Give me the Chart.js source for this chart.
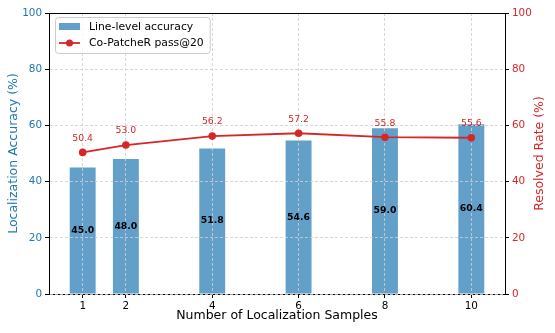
<!DOCTYPE html>
<html>
<head>
<meta charset="utf-8">
<script src="https://cdn.jsdelivr.net/npm/chart.js@4"></script>
<style>
  html, body { margin: 0; padding: 0; background: #fff; }
  canvas { display: block; }
</style>
</head>
<body>
<canvas id="c" width="555" height="333"></canvas>
<script>
// ---- data ----
const samples = [1, 2, 4, 6, 8, 10];
const lineLevelAccuracy = [45.0, 48.0, 51.8, 54.6, 59.0, 60.4];
const resolvedRate = [50.4, 53.0, 56.2, 57.2, 55.8, 55.6];
const xTickValues = [1, 2, 4, 6, 8, 10];
const yTickValues = [0, 20, 40, 60, 80, 100];
const barLabel = 'Line-level accuracy';
const lineLabel = 'Co-PatcheR pass@20';

const FONT = 'DejaVu Sans';
const BLUE = '#1f77b4';
const RED = '#d62728';
const BAR_FILL = 'rgba(31,119,180,0.7)';
const GRID = '#d6d6d6';
const TICK_SIZE = 10.4;
const TITLE_SIZE = 12.5;
const LEGEND_SIZE = 10.8;
const VALUE_SIZE = 9.3;

const extrasPlugin = {
  id: 'extras',
  afterDatasetDraw(chart, args) {
    if (args.index === 0) {
      // matplotlib puts grid above bars, below the line
      chart.scales.x.drawGrid(chart.chartArea);
      chart.scales.y.drawGrid(chart.chartArea);
    }
  },
  afterDraw(chart) {
    const ctx = chart.ctx;
    const a = chart.chartArea;
    ctx.save();
    // top spine
    ctx.strokeStyle = '#000';
    ctx.lineWidth = 1;
    ctx.beginPath();
    ctx.moveTo(a.left, a.top + 0.5);
    ctx.lineTo(a.right, a.top + 0.5);
    ctx.stroke();

    // bar value labels
    ctx.fillStyle = '#000';
    ctx.font = 'bold ' + VALUE_SIZE + 'px "' + FONT + '"';
    ctx.textAlign = 'center';
    ctx.textBaseline = 'middle';
    chart.getDatasetMeta(0).data.forEach((el, i) => {
      ctx.fillText(lineLevelAccuracy[i].toFixed(1), el.x, (el.y + el.base) / 2);
    });
    // line value labels
    ctx.fillStyle = RED;
    ctx.font = VALUE_SIZE + 'px "' + FONT + '"';
    chart.getDatasetMeta(1).data.forEach((el, i) => {
      ctx.fillText(resolvedRate[i].toFixed(1), el.x, el.y - 14);
    });

    // right axis title (reads bottom-to-top like matplotlib)
    ctx.save();
    ctx.translate(540, (a.top + a.bottom) / 2);
    ctx.rotate(-Math.PI / 2);
    ctx.fillStyle = RED;
    ctx.font = TITLE_SIZE + 'px "' + FONT + '"';
    ctx.fillText('Resolved Rate (%)', 0, 0);
    ctx.restore();

    // legend
    const lx = a.left + 6, ly = a.top + 4;
    ctx.font = LEGEND_SIZE + 'px "' + FONT + '"';
    const tw = Math.max(ctx.measureText(barLabel).width, ctx.measureText(lineLabel).width);
    const textX = lx + 34;
    const w = textX + tw + 6 - lx, h = 36;
    ctx.beginPath();
    if (ctx.roundRect) ctx.roundRect(lx + 0.5, ly + 0.5, w, h, 3); else ctx.rect(lx + 0.5, ly + 0.5, w, h);
    ctx.fillStyle = 'rgba(255,255,255,0.8)';
    ctx.fill();
    ctx.strokeStyle = '#cccccc';
    ctx.lineWidth = 1;
    ctx.stroke();
    // bar patch
    ctx.fillStyle = BAR_FILL;
    ctx.fillRect(lx + 4, ly + 6, 21, 7);
    // line handle
    const ry = ly + 26;
    ctx.strokeStyle = RED;
    ctx.lineWidth = 1.8;
    ctx.beginPath();
    ctx.moveTo(lx + 4, ry);
    ctx.lineTo(lx + 25, ry);
    ctx.stroke();
    ctx.fillStyle = RED;
    ctx.beginPath();
    ctx.arc(lx + 14.5, ry, 3.5, 0, Math.PI * 2);
    ctx.fill();
    // texts
    ctx.fillStyle = '#000';
    ctx.textAlign = 'left';
    ctx.textBaseline = 'middle';
    ctx.fillText(barLabel, textX, ly + 10);
    ctx.fillText(lineLabel, textX, ry);
    ctx.restore();
  }
};

new Chart(document.getElementById('c'), {
  type: 'bar',
  data: {
    datasets: [
      {
        type: 'bar',
        label: barLabel,
        data: samples.map((x, i) => ({ x: x, y: lineLevelAccuracy[i] })),
        backgroundColor: BAR_FILL,
        borderWidth: 0,
        barPercentage: 0.6,
        categoryPercentage: 1.0,
        yAxisID: 'y',
        order: 1
      },
      {
        type: 'line',
        label: lineLabel,
        data: samples.map((x, i) => ({ x: x, y: resolvedRate[i] })),
        borderColor: RED,
        backgroundColor: RED,
        borderWidth: 1.8,
        pointRadius: 3.8,
        pointBackgroundColor: RED,
        pointBorderWidth: 0,
        tension: 0,
        fill: false,
        yAxisID: 'y1',
        order: 0
      }
    ]
  },
  options: {
    responsive: false,
    animation: false,
    layout: { padding: { top: 13, left: 0, right: 0, bottom: 0 } },
    plugins: { legend: { display: false }, tooltip: { enabled: false } },
    scales: {
      x: {
        type: 'linear',
        min: 0.22,
        max: 10.78,
        offset: false,
        afterBuildTicks: s => { s.ticks = xTickValues.map(v => ({ value: v })); },
        afterFit: s => { s.height = 39; },
        grid: { color: GRID, lineWidth: 0.8, offset: false, tickColor: '#000', tickLength: 4, tickWidth: 1 },
        border: { display: true, color: '#000', width: 1, dash: [3, 2] },
        ticks: { color: '#000', font: { family: FONT, size: TICK_SIZE }, padding: 2, maxRotation: 0, autoSkip: false },
        title: { display: true, text: 'Number of Localization Samples', color: '#000',
                 font: { family: FONT, size: TITLE_SIZE, lineHeight: 1.2 }, padding: { top: 0, bottom: 10 } }
      },
      y: {
        position: 'left',
        min: 0, max: 100,
        afterBuildTicks: s => { s.ticks = yTickValues.map(v => ({ value: v })); },
        afterFit: s => { s.width = 49; },
        grid: { color: GRID, lineWidth: 0.8, tickColor: '#000', tickLength: 4, tickWidth: 1 },
        border: { display: true, color: '#000', width: 1, dash: [3, 2] },
        ticks: { color: BLUE, font: { family: FONT, size: TICK_SIZE }, padding: 3 },
        title: { display: true, text: 'Localization Accuracy (%)', color: BLUE,
                 font: { family: FONT, size: TITLE_SIZE, lineHeight: 1.2 }, padding: { top: 6, bottom: 0 } }
      },
      y1: {
        position: 'right',
        min: 0, max: 100,
        afterBuildTicks: s => { s.ticks = yTickValues.map(v => ({ value: v })); },
        afterFit: s => { s.width = 50; },
        grid: { drawOnChartArea: false, color: '#000', tickColor: '#000', tickLength: 4, tickWidth: 1 },
        border: { display: true, color: '#000', width: 1 },
        ticks: { color: RED, font: { family: FONT, size: TICK_SIZE }, padding: 3 },
        title: { display: false }
      }
    }
  },
  plugins: [extrasPlugin]
});
</script>
</body>
</html>
